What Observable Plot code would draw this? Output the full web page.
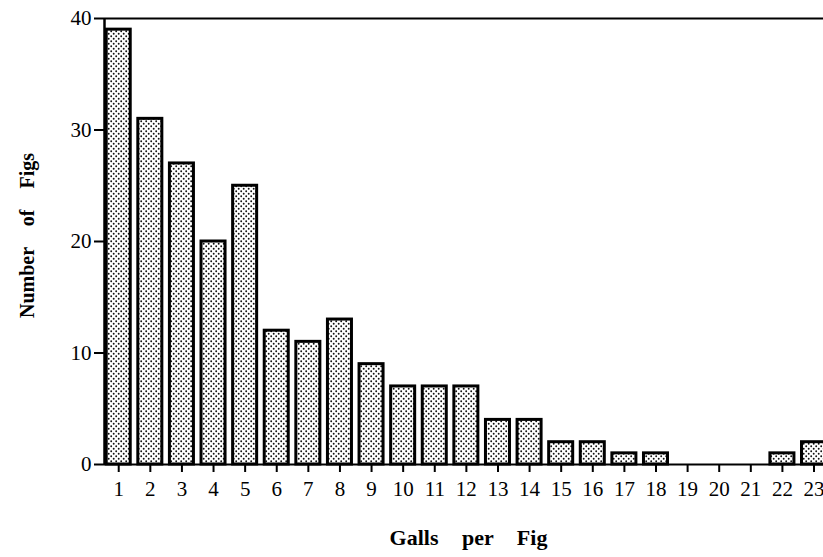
<!DOCTYPE html>
<html>
<head>
<meta charset="utf-8">
<script src="https://cdn.jsdelivr.net/npm/d3@7"></script>
<script src="https://cdn.jsdelivr.net/npm/@observablehq/plot@0.6"></script>
<style>
  html, body { margin: 0; padding: 0; background: #fff; }
</style>
</head>
<body>
<div id="chart"></div>
<script>
const galls = [1,2,3,4,5,6,7,8,9,10,11,12,13,14,15,16,17,18,19,20,21,22,23];
const figs  = [39,31,27,20,25,12,11,13,9,7,7,7,4,4,2,2,1,1,0,0,0,1,2];
const yTicks = [0,10,20,30,40];
const xTitle = "Galls per Fig";
const yTitle = "Number of Figs";

const data = galls.map((g, i) => ({g, n: figs[i]}));
const half = 0.38;

const plot = Plot.plot({
  width: 823,
  height: 557,
  marginLeft: 104,
  marginRight: 0,
  marginTop: 18,
  marginBottom: 93,
  style: {fontFamily: "'Liberation Serif', 'Times New Roman', serif", fontSize: "21px", color: "#000", background: "#fff"},
  x: {domain: [0.55, 23.3]},
  y: {domain: [0, 40]},
  marks: [
    Plot.rectY(data, {x1: d => d.g - half, x2: d => d.g + half, y1: 0, y2: "n",
      fill: "url(#stipple)", stroke: "#000", strokeWidth: 3}),
    Plot.ruleY([0, 40], {stroke: "#000", strokeWidth: 2}),
    Plot.ruleX([0.55], {stroke: "#000", strokeWidth: 2.5}),
    Plot.axisY({ticks: yTicks, tickSize: 10, tickPadding: 3, label: null, strokeWidth: 2, fontSize: 21}),
    Plot.axisX({ticks: galls, tickFormat: d => String(d), tickSize: 8, tickPadding: 9, label: null, strokeWidth: 2, fontSize: 21}),
    Plot.text([yTitle], {frameAnchor: "left", dx: -77, dy: -6, rotate: -90, text: d => d,
      fontSize: 20, fontWeight: "bold", textAnchor: "middle"}),
    Plot.text([xTitle], {frameAnchor: "bottom", dx: 4.5, dy: 73, text: d => d,
      fontSize: 22, fontWeight: "bold", lineAnchor: "middle"})
  ]
});

const svg = d3.select(plot);
svg.selectAll("text")
  .filter(function() { return this.textContent === xTitle; })
  .style("word-spacing", "18px");
svg.selectAll("text")
  .filter(function() { return this.textContent === yTitle; })
  .style("word-spacing", "16px");

const defs = svg.insert("defs", ":first-child");
const pat = defs.append("pattern")
  .attr("id", "stipple")
  .attr("patternUnits", "userSpaceOnUse")
  .attr("width", 5).attr("height", 5);
pat.append("rect").attr("width", 5).attr("height", 5).attr("fill", "#fff");
pat.append("circle").attr("cx", 1.2).attr("cy", 1.2).attr("r", 0.95).attr("fill", "#111");
pat.append("circle").attr("cx", 3.7).attr("cy", 3.7).attr("r", 0.95).attr("fill", "#111");

document.getElementById("chart").appendChild(plot);
</script>
</body>
</html>
